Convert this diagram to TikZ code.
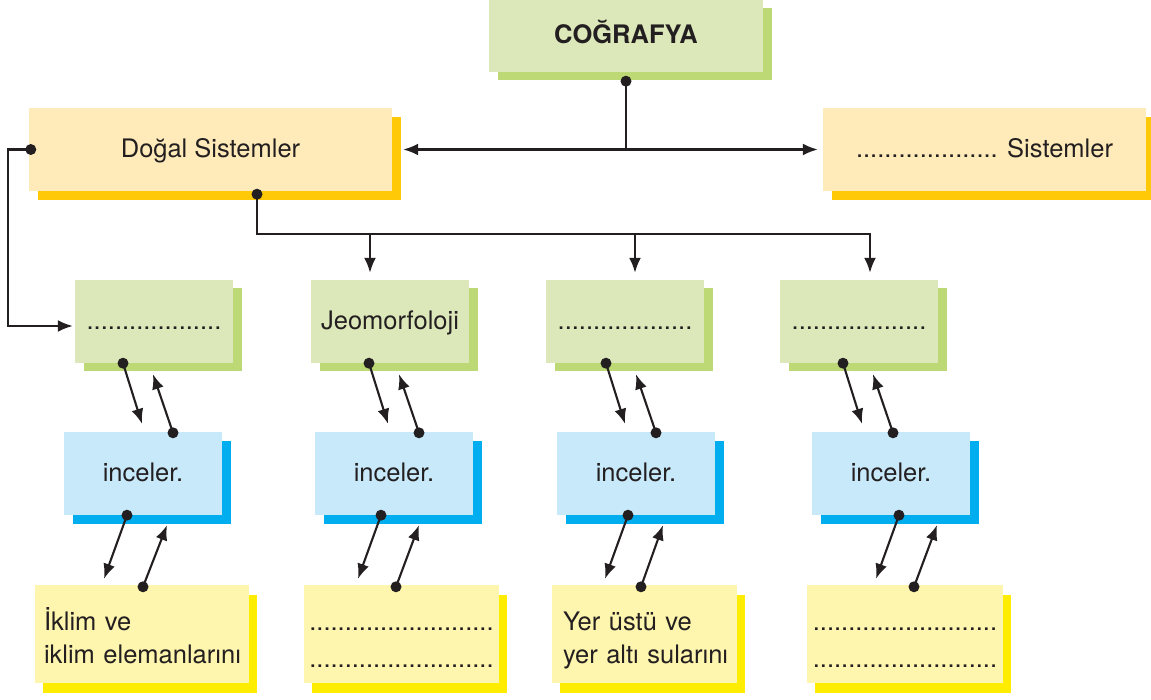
\documentclass[tikz,border=0pt]{standalone}
\usepackage{fontspec}
\setmainfont{TeX Gyre Heros}
\usetikzlibrary{arrows.meta,shadows,calc}
\definecolor{gfill}{HTML}{DCE8BA}
\definecolor{gshad}{HTML}{BDD975}
\definecolor{ofill}{HTML}{FEEBB9}
\definecolor{oshad}{HTML}{FFC907}
\definecolor{bfill}{HTML}{C7E9F9}
\definecolor{bshad}{HTML}{00AEEF}
\definecolor{yfill}{HTML}{FEF5AE}
\definecolor{yshad}{HTML}{FFED00}
\definecolor{ink}{HTML}{231F20}
\begin{document}
\begin{tikzpicture}[x=1pt,y=-1pt,
  font=\fontsize{25.5}{33}\selectfont,
  box/.style={rectangle, inner sep=0pt, text=ink, text height=18pt, text depth=2pt},
  gbox/.style={box, fill=gfill, general shadow={fill=gshad, shadow xshift=8.5pt, shadow yshift=-8.5pt}, minimum width=158pt, minimum height=83pt},
  obox/.style={box, fill=ofill, general shadow={fill=oshad, shadow xshift=8.5pt, shadow yshift=-9pt}, minimum height=83pt},
  bbox/.style={box, fill=bfill, general shadow={fill=bshad, shadow xshift=8.5pt, shadow yshift=-8.5pt}, minimum width=158pt, minimum height=83pt},
  ybox/.style={box, fill=yfill, general shadow={fill=yshad, shadow xshift=8pt, shadow yshift=-10pt}, minimum height=98pt, text depth=26pt},
  conn/.style={draw=ink, line width=2.1pt},
  arr/.style={conn, -{Latex[length=15pt,width=12pt]}},
  dotr/.style={fill=ink},
]
\useasboundingbox (0,0) rectangle (1151,700);

% boxes
\node[gbox, minimum width=274pt, minimum height=72pt, general shadow={fill=gshad, shadow xshift=9pt, shadow yshift=-8pt}] (co) at (626,36) {\bfseries COĞRAFYA};
\node[obox, minimum width=363pt] (ds) at (210.5,149.5) {Doğal Sistemler};
\node[obox, minimum width=323pt] (os) at (984.5,149.5) {.................... Sistemler};

\node[gbox] (g1) at (154,321.5) {...................};
\node[gbox] (g2) at (390,321.5) {Jeomorfoloji};
\node[gbox] (g3) at (625,321.5) {...................};
\node[gbox] (g4) at (859,321.5) {...................};

\node[bbox] (b1) at (143,473.5) {inceler.};
\node[bbox] (b2) at (394,473.5) {inceler.};
\node[bbox] (b3) at (636,473.5) {inceler.};
\node[bbox] (b4) at (891,473.5) {inceler.};

\node[ybox, minimum width=214pt, text width=196pt, align=left] (y1) at (142,634) {İklim ve\\\mbox{iklim elemanlarını}};
\node[ybox, minimum width=195pt, text width=195pt, align=center] (y2) at (401.5,634) {..........................\\[4pt]..........................};
\node[ybox, minimum width=185pt, text width=163pt, align=left] (y3) at (644.5,634) {Yer üstü ve\\\mbox{yer altı sularını}};
\node[ybox, minimum width=196pt, text width=196pt, align=center] (y4) at (905,634) {..........................\\[4pt]..........................};

% top connectors
\coordinate (codot) at ([yshift=-9pt]co.south);
\coordinate (hub) at (codot |- ds.east);
\draw[conn] (codot) -- (hub);
\fill[dotr] (codot) circle[radius=5.5pt];
\draw[conn, {Latex[length=15pt,width=12pt]}-{Latex[length=15pt,width=12pt]}] ([xshift=11pt]ds.east) -- ([xshift=-5pt]os.west);

% left loop
\coordinate (dsl) at ([xshift=2pt]ds.west);
\draw[arr] (dsl) -- ++(-22.5,0) |- ([xshift=-2pt,yshift=-4.5pt]g1.west);
\fill[dotr] (dsl) circle[radius=5.5pt];

% bus from Dogal Sistemler
\coordinate (dsb) at ([xshift=46.5pt,yshift=-3pt]ds.south);
\coordinate (t2) at ([xshift=-20pt,yshift=7pt]g2.north);
\coordinate (t3) at ([xshift=10pt,yshift=7pt]g3.north);
\coordinate (t4) at ([xshift=11pt,yshift=7pt]g4.north);
\path (dsb) ++(0,40) coordinate (bus);
\draw[arr] (dsb) -- (bus) -| (t4);
\draw[arr] (t2 |- bus) -- (t2);
\draw[arr] (t3 |- bus) -- (t3);
\fill[dotr] (dsb) circle[radius=5.5pt];

% green <-> blue
\foreach \i/\a/\b/\c/\d in {1/-31/-1/30/-1, 2/-21/-6/25/9, 3/-19/-11/20/11, 4/-16/-29/2/14}{
  \draw[arr] ([xshift=\a pt]g\i.south) -- ([xshift=\b pt,yshift=8pt]b\i.north);
  \fill[dotr] ([xshift=\a pt]g\i.south) circle[radius=5.5pt];
  \draw[arr] ([xshift=\c pt,yshift=-1pt]b\i.north) -- ([xshift=\d pt,yshift=-11pt]g\i.south);
  \fill[dotr] ([xshift=\c pt,yshift=-1pt]b\i.north) circle[radius=5.5pt];
}
% blue <-> yellow
\foreach \i/\a/\b/\c/\d in {1/-16/-38/1/24, 2/-13/-43.5/-5.5/25, 3/-8/-39.5/-3.5/27, 4/8/-29/9/46}{
  \draw[arr] ([xshift=\a pt]b\i.south) -- ([xshift=\b pt,yshift=6pt]y\i.north);
  \fill[dotr] ([xshift=\a pt]b\i.south) circle[radius=5.5pt];
  \draw[arr] ([xshift=\c pt,yshift=-2pt]y\i.north) -- ([xshift=\d pt,yshift=-10pt]b\i.south);
  \fill[dotr] ([xshift=\c pt,yshift=-2pt]y\i.north) circle[radius=5.5pt];
}
\end{tikzpicture}
\end{document}
